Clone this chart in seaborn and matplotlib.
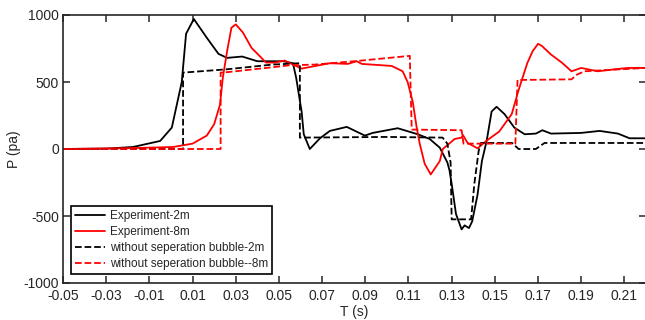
import matplotlib
matplotlib.use("Agg")
import matplotlib.pyplot as plt
import pandas as pd
import seaborn as sns

# Experiment, 2 m
t_exp2 = [-0.05, -0.03, -0.0176, -0.005, 0.0004, 0.005, 0.007, 0.0106, 0.0166, 0.022,
          0.026, 0.033, 0.040, 0.052, 0.0565, 0.058, 0.0605, 0.0615, 0.0643, 0.069,
          0.0736, 0.0814, 0.0898, 0.0934, 0.105, 0.1143, 0.1198, 0.1245, 0.128, 0.129,
          0.130, 0.132, 0.1346, 0.136, 0.138, 0.1395, 0.142, 0.144, 0.1462, 0.1485,
          0.1508, 0.1545, 0.159, 0.1638, 0.169, 0.172, 0.176, 0.190, 0.1985, 0.207,
          0.2124, 0.22]
p_exp2 = [0, 3, 15, 60, 160, 500, 860, 970, 830, 710,
          680, 690, 655, 655, 640, 530, 280, 110, 0, 80,
          135, 165, 100, 120, 155, 110, 75, 10, -100, -160,
          -260, -485, -600, -570, -590, -540, -340, -90, 60, 280,
          315, 260, 160, 110, 115, 140, 115, 120, 135, 115,
          80, 80]

# Experiment, 8 m
t_exp8 = [-0.05, -0.0176, 0.001, 0.010, 0.0166, 0.020, 0.0227, 0.024, 0.026, 0.028,
          0.030, 0.0333, 0.0373, 0.041, 0.044, 0.048, 0.0527, 0.0565, 0.0605, 0.0736,
          0.0819, 0.086, 0.0884, 0.1022, 0.1073, 0.1096, 0.112, 0.1138, 0.1152, 0.1175,
          0.1203, 0.1245, 0.1259, 0.1314, 0.1346, 0.1352, 0.1374, 0.142, 0.146, 0.152,
          0.1578, 0.161, 0.165, 0.1675, 0.170, 0.1717, 0.176, 0.181, 0.1855, 0.190,
          0.1977, 0.2055, 0.2115, 0.22]
p_exp8 = [0, 7, 15, 40, 100, 185, 330, 530, 730, 905,
          930, 870, 755, 695, 645, 645, 660, 630, 600, 640,
          635, 655, 635, 620, 580, 500, 350, 160, 40, -110,
          -190, -90, 0, 75, 85, 105, 45, 5, 60, 130,
          260, 440, 640, 730, 785, 770, 705, 645, 580, 605,
          580, 595, 605, 605]

# Model without separation bubble, 2 m
t_mod2 = [-0.05, 0.0056, 0.0056, 0.026, 0.047, 0.0597, 0.0597, 0.100, 0.1258, 0.128,
          0.1295, 0.1300, 0.139, 0.1405, 0.1425, 0.1435, 0.158, 0.161, 0.169, 0.173,
          0.22]
p_mod2 = [0, 0, 570, 595, 630, 640, 85, 90, 85, 40,
          -100, -525, -525, -260, -15, 45, 45, 0, 0, 45,
          45]

# Model without separation bubble, 8 m
t_mod8 = [-0.05, 0.023, 0.023, 0.027, 0.047, 0.055, 0.0666, 0.085, 0.1106, 0.1115,
          0.1346, 0.1355, 0.1595, 0.1605, 0.1855, 0.188, 0.1915, 0.22]
p_mod8 = [0, 0, 570, 575, 610, 625, 630, 655, 695, 145,
          140, 40, 40, 515, 520, 555, 580, 605]

labels = ["Experiment-2m", "Experiment-8m",
          "without seperation bubble-2m", "without seperation bubble--8m"]
x_ticks = [-0.05, -0.03, -0.01, 0.01, 0.03, 0.05, 0.07, 0.09, 0.11, 0.13, 0.15,
           0.17, 0.19, 0.21]
y_ticks = [-1000, -500, 0, 500, 1000]

sns.set_style("ticks")
plt.rcParams["font.family"] = ["Liberation Sans", "DejaVu Sans"]
plt.rcParams.update({
    "axes.unicode_minus": False,
    "xtick.direction": "in", "ytick.direction": "in",
    "xtick.top": True, "ytick.right": True,
    "xtick.major.size": 5, "ytick.major.size": 5,
    "xtick.major.width": 1.1, "ytick.major.width": 1.1,
    "axes.linewidth": 1.2, "axes.edgecolor": "#262626",
    "xtick.color": "#262626", "ytick.color": "#262626",
})

fig = plt.figure(figsize=(6.45, 3.2), dpi=100)
ax = fig.add_axes([63 / 645, 37 / 320, 583 / 645, 268 / 320])

series = [
    (t_exp2, p_exp2, "black", "-"),
    (t_exp8, p_exp8, "red", "-"),
    (t_mod2, p_mod2, "black", "--"),
    (t_mod8, p_mod8, "red", "--"),
]
for (t, p, col, ls), lab in zip(series, labels):
    df = pd.DataFrame({"T": t, "P": p})
    sns.lineplot(data=df, x="T", y="P", ax=ax, color=col, linestyle=ls,
                 linewidth=1.3, sort=False, estimator=None, label=lab)

ax.set_xlim(-0.05, 0.22)
ax.set_ylim(-1000, 1000)
ax.set_xticks(x_ticks)
ax.set_xticklabels([f"{v:g}" for v in x_ticks])
ax.set_yticks(y_ticks)
ax.tick_params(axis="x", labelsize=10, pad=4, colors="#262626")
ax.tick_params(axis="y", labelsize=10, pad=3, colors="#262626")
for s in ax.spines.values():
    s.set_visible(True)

ax.set_xlabel("T (s)", fontsize=10, labelpad=2)
ax.set_ylabel("P (pa)", fontsize=10)
ax.yaxis.set_label_coords(-0.072, 0.5)

leg = ax.legend(loc="lower left", bbox_to_anchor=(0.0137, 0.034),
                borderaxespad=0, fontsize=8.5, fancybox=False, framealpha=1,
                edgecolor="black", handlelength=2.6, handletextpad=0.4,
                labelspacing=0.35, borderpad=0.3)
leg.get_frame().set_linewidth(1.2)

fig.savefig("out.png", dpi=100)
